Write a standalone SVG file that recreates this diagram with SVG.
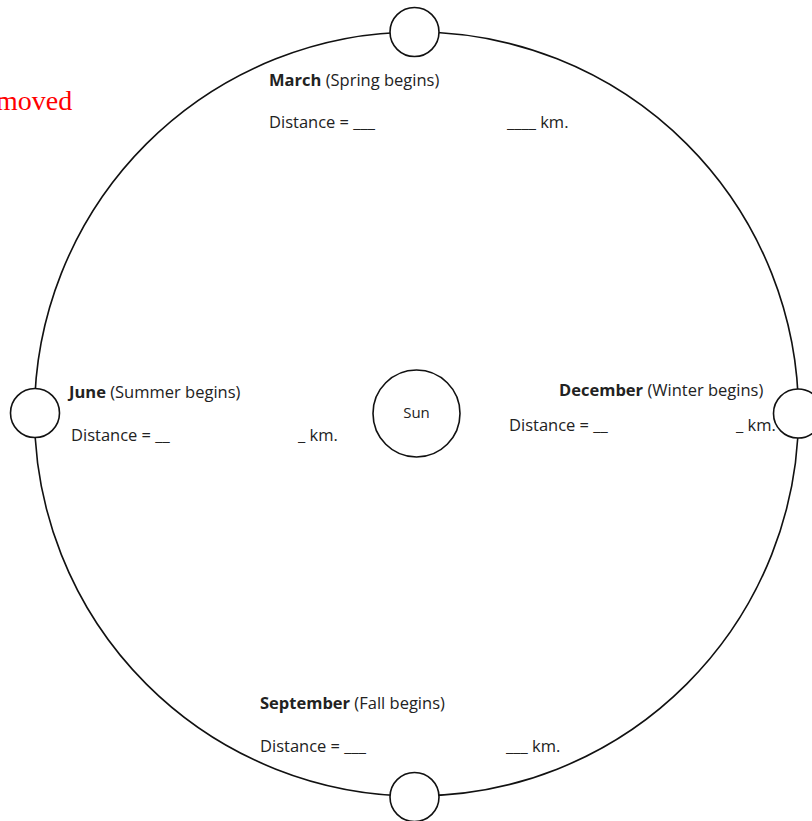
<svg xmlns="http://www.w3.org/2000/svg" width="812" height="821" viewBox="0 0 812 821">
<style>
.ln{fill:none;stroke:#111;stroke-width:1.6}
.pl{fill:#fff;stroke:#111;stroke-width:1.6}
.t{font-family:"Open Sans","Liberation Sans",sans-serif;font-size:16.5px;fill:#222}
.b{font-weight:bold}
.red{font-family:"Liberation Serif",serif;font-size:28px;fill:#ff0000}
</style>
<rect width="812" height="821" fill="#fff"/>
<text class="red" x="-4" y="110">moved</text>
<g id="connectors">
<circle class="ln" cx="416.5" cy="414" r="382"/>
</g>
<g id="sun">
<circle class="pl" cx="416.5" cy="413.5" r="43.5"/>
<text class="t" x="416.5" y="418" text-anchor="middle" style="font-size:15px">Sun</text>
</g>
<g id="march">
<circle class="pl" cx="414.5" cy="32" r="24.5"/>
<text class="t" x="269" y="86"><tspan class="b">March</tspan> (Spring begins)</text>
<text class="t" x="269" y="128">Distance = ___</text>
<text class="t" x="507" y="128">____ km.</text>
</g>
<g id="june">
<circle class="pl" cx="35" cy="413" r="24.5"/>
<text class="t" x="69" y="398"><tspan class="b">June</tspan> (Summer begins)</text>
<text class="t" x="71" y="441">Distance = __</text>
<text class="t" x="298" y="441">_ km.</text>
</g>
<g id="december">
<circle class="pl" cx="798" cy="413.5" r="24.5"/>
<text class="t" x="559" y="396"><tspan class="b">December</tspan> (Winter begins)</text>
<text class="t" x="509" y="431">Distance = __</text>
<text class="t" x="736" y="431">_ km.</text>
</g>
<g id="september">
<circle class="pl" cx="414.5" cy="797" r="24.5"/>
<text class="t" x="260" y="709"><tspan class="b">September</tspan> (Fall begins)</text>
<text class="t" x="260" y="752">Distance = ___</text>
<text class="t" x="506" y="752">___ km.</text>
</g>
</svg>
